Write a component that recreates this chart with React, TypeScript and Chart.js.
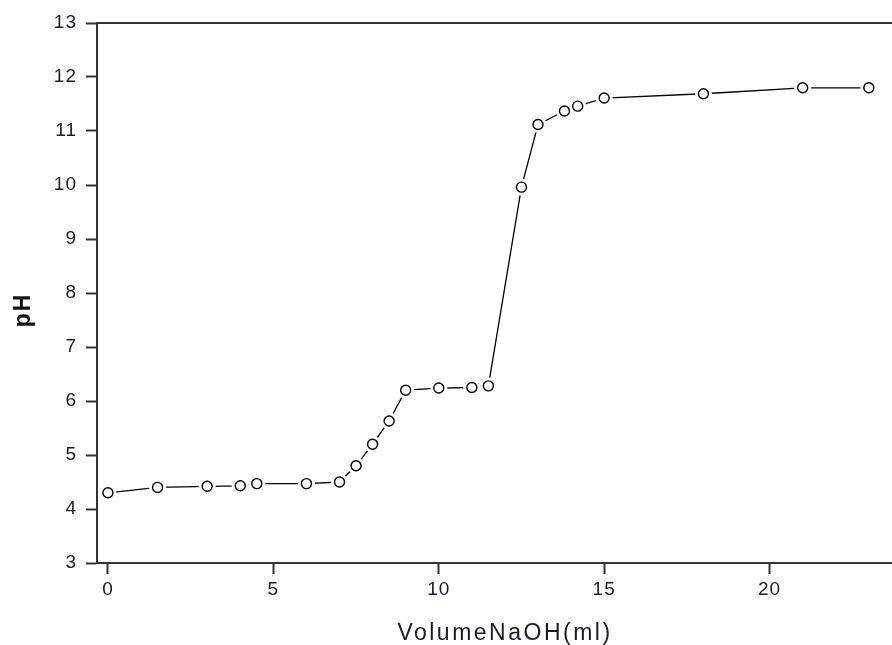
import React, { useEffect, useRef } from "react";
import { Chart, registerables } from "chart.js";

Chart.register(...registerables);

const volumeNaOH = [0, 1.5, 3, 4, 4.5, 6, 7, 7.5, 8, 8.5, 9, 10, 11, 11.5, 12.5, 13, 13.8, 14.2, 15, 18, 21, 23];
const pHValues = [4.3, 4.4, 4.42, 4.43, 4.47, 4.47, 4.5, 4.8, 5.2, 5.63, 6.2, 6.24, 6.25, 6.28, 9.96, 11.12, 11.37, 11.46, 11.61, 11.69, 11.8, 11.8];
const xTickValues = [0, 5, 10, 15, 20];
const yTickValues = [3, 4, 5, 6, 7, 8, 9, 10, 11, 12, 13];
const xTitle = "VolumeNaOH(ml)";
const yTitle = "pH";

const FONT = "'Liberation Sans', Arial, sans-serif";

export default function App() {
  const ref = useRef<HTMLCanvasElement | null>(null);
  useEffect(() => {
    document.body.style.margin = "0";
    const pts = volumeNaOH.map((x, i) => ({ x, y: pHValues[i] }));
    const decorations = {
      id: "decorations",
      beforeDraw(chart: any) {
        (chart.ctx as any).letterSpacing = "1px";
      },
      afterDraw(chart: any) {
        const { ctx, chartArea } = chart;
        ctx.save();
        ctx.strokeStyle = "#333";
        ctx.lineWidth = 2;
        ctx.beginPath();
        ctx.moveTo(chartArea.left, chartArea.top);
        ctx.lineTo(chartArea.right, chartArea.top);
        ctx.stroke();

        // x title
        ctx.fillStyle = "#1a1a2a";
        ctx.font = `23px ${FONT}`;
        (ctx as any).letterSpacing = "2.5px";
        ctx.textAlign = "center";
        ctx.textBaseline = "alphabetic";
        ctx.fillText(xTitle, 505, 640);

        // y title
        (ctx as any).letterSpacing = "2px";
        ctx.font = `bold 23px ${FONT}`;
        ctx.fillStyle = "#111";
        ctx.translate(30, 310);
        ctx.rotate(-Math.PI / 2);
        ctx.textAlign = "center";
        ctx.textBaseline = "alphabetic";
        ctx.fillText(yTitle, 0, 0);
        ctx.restore();
      },
    };
    const chart = new Chart(ref.current as HTMLCanvasElement, {
      type: "scatter",
      data: {
        datasets: [
          {
            data: pts,
            showLine: true,
            borderColor: "#000",
            borderWidth: 1.3,
            pointRadius: 0,
            order: 3,
          },
          {
            data: pts,
            showLine: false,
            pointRadius: 8.5,
            pointBackgroundColor: "#fff",
            pointBorderColor: "#fff",
            pointBorderWidth: 0,
            order: 2,
          },
          {
            data: pts,
            showLine: false,
            pointRadius: 5,
            pointBackgroundColor: "#fff",
            pointBorderColor: "#000",
            pointBorderWidth: 1.4,
            order: 1,
          },
        ],
      },
      options: {
        animation: false,
        responsive: false,
        layout: { autoPadding: false, padding: { top: 23, right: 0, left: 0, bottom: 0 } },
        plugins: { legend: { display: false }, tooltip: { enabled: false } },
        scales: {
          x: {
            type: "linear",
            min: -0.33,
            max: 23.7,
            afterBuildTicks: (axis: any) => {
              axis.ticks = xTickValues.map((v) => ({ value: v }));
            },
            afterFit: (axis: any) => {
              axis.height = 82;
            },
            grid: { drawOnChartArea: false, tickLength: 11, tickColor: "#333", tickWidth: 2 },
            border: { color: "#333", width: 2 },
            ticks: { color: "#1a1a2a", font: { family: FONT, size: 19 }, padding: 4, maxRotation: 0 },
          },
          y: {
            type: "linear",
            min: 3,
            max: 13,
            afterBuildTicks: (axis: any) => {
              axis.ticks = yTickValues.map((v) => ({ value: v }));
            },
            afterFit: (axis: any) => {
              axis.width = 97;
            },
            grid: { drawOnChartArea: false, tickLength: 11, tickColor: "#333", tickWidth: 2 },
            border: { color: "#333", width: 2 },
            ticks: { color: "#1a1a2a", font: { family: FONT, size: 19 }, padding: 9 },
          },
        },
      },
      plugins: [decorations],
    } as any);
    return () => chart.destroy();
  }, []);
  return <canvas ref={ref} width={892} height={645} style={{ display: "block" }} />;
}
